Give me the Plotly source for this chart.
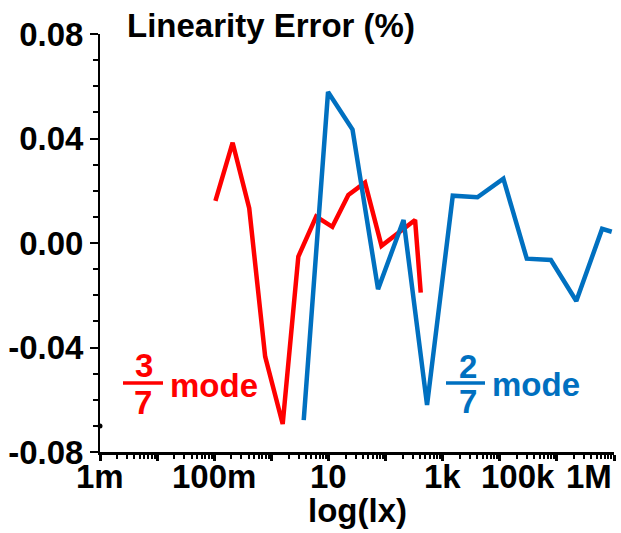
import math
import plotly.graph_objects as go

# Linearity error (%) versus illuminance (lx) for the two operating modes
lux_3_7 = [0.105, 0.21, 0.41, 0.78, 1.58, 2.97, 6.1, 11.7, 22.3, 43.7, 85, 166, 329, 413]
err_3_7 = [0.0161, 0.0384, 0.0133, -0.0435, -0.0693, -0.0052, 0.0101, 0.0062,
           0.0184, 0.0231, -0.0011, 0.0038, 0.0088, -0.0190]

lux_2_7 = [3.69, 9.84, 26.4, 73.9, 206.6, 533, 1503, 4066, 11560, 29700,
           78500, 218800, 619000, 912000]
err_2_7 = [-0.0678, 0.0578, 0.0434, -0.0177, 0.0088, -0.0620, 0.0181, 0.0175,
           0.0246, -0.0060, -0.0065, -0.0222, 0.0054, 0.0043]

x_tick_vals = [1e-3, 1e-1, 10, 1e3, 1e5, 1e6]
x_tick_text = ["1m", "100m", "10", "1k", "100k", "1M"]
y_tick_vals = [-0.08, -0.04, 0.0, 0.04, 0.08]
y_tick_text = ["-0.08", "-0.04", "0.00", "0.04", "0.08"]

RED = "#FF0000"
BLUE = "#0070C0"
FONT = "Liberation Sans"

W, H = 621, 533
L, R, T, B = 100, 7, 34, 81
PW, PH = W - L - R, H - T - B


def px(xp):
    return (xp - L) / PW


def py(yp):
    return (H - B - yp) / PH


fig = go.Figure()
fig.add_trace(go.Scatter(x=lux_3_7, y=err_3_7, mode="lines",
                         line=dict(color=RED, width=4.5), cliponaxis=False,
                         showlegend=False))
fig.add_trace(go.Scatter(x=lux_2_7, y=err_2_7, mode="lines",
                         line=dict(color=BLUE, width=4.5), cliponaxis=False,
                         showlegend=False))

minor_x = [m * 10 ** d for d in range(-3, 6) for m in range(2, 10)]
all_decades = [10 ** d for d in range(-3, 7)]

fig.update_xaxes(type="log", range=[-3, 6], showgrid=False, zeroline=False,
                 showline=True, linecolor="black", linewidth=3,
                 tickmode="array", tickvals=all_decades, showticklabels=False,
                 ticks="outside", ticklen=6, tickwidth=3, tickcolor="black",
                 minor=dict(tickmode="array", tickvals=minor_x, ticks="outside",
                            ticklen=4, tickwidth=2, tickcolor="black"))
fig.update_yaxes(range=[-0.08, 0.08], showgrid=False, zeroline=False,
                 showline=True, linecolor="black", linewidth=2,
                 tickmode="array", tickvals=y_tick_vals, ticktext=y_tick_text,
                 ticks="outside", ticklen=8, tickwidth=2, tickcolor="black",
                 tickfont=dict(family=FONT, size=33, color="black", weight="bold"),
                 minor=dict(dtick=0.01, ticks="outside", ticklen=5, tickwidth=2,
                            tickcolor="black"))

annotations = []
# x tick labels; the two rightmost are right-aligned to stay inside the frame
for i, (v, t) in enumerate(zip(x_tick_vals, x_tick_text)):
    anchor = "right" if i >= len(x_tick_vals) - 2 else "center"
    annotations.append(dict(x=math.log10(v), xref="x", y=py(476), yref="paper",
                            text=t, showarrow=False, xanchor=anchor, yanchor="middle",
                            font=dict(family=FONT, size=33, color="black", weight="bold")))

bold = lambda size, color: dict(family=FONT, size=size, color=color, weight="bold")
annotations += [
    dict(x=px(357), y=py(510), xref="paper", yref="paper", text="log(lx)",
         showarrow=False, xanchor="center", yanchor="middle", font=bold(33, "black")),
    dict(x=px(125), y=py(25), xref="paper", yref="paper", text="Linearity Error (%)",
         showarrow=False, xanchor="left", yanchor="middle", font=bold(33, "black")),
    # 3/7 mode label
    dict(x=px(144), y=py(365), xref="paper", yref="paper", text="3", showarrow=False,
         xanchor="center", yanchor="middle", font=bold(33, RED)),
    dict(x=px(143), y=py(402), xref="paper", yref="paper", text="7", showarrow=False,
         xanchor="center", yanchor="middle", font=bold(33, RED)),
    dict(x=px(168), y=py(385), xref="paper", yref="paper", text="mode", showarrow=False,
         xanchor="left", yanchor="middle", font=bold(33, RED)),
    # 2/7 mode label
    dict(x=px(468), y=py(366), xref="paper", yref="paper", text="2", showarrow=False,
         xanchor="center", yanchor="middle", font=bold(33, BLUE)),
    dict(x=px(468), y=py(401), xref="paper", yref="paper", text="7", showarrow=False,
         xanchor="center", yanchor="middle", font=bold(33, BLUE)),
    dict(x=px(490), y=py(384), xref="paper", yref="paper", text="mode", showarrow=False,
         xanchor="left", yanchor="middle", font=bold(33, BLUE)),
]

shapes = [
    dict(type="line", xref="paper", yref="paper", x0=px(123), x1=px(163),
         y0=py(383), y1=py(383), line=dict(color=RED, width=3.5)),
    dict(type="line", xref="paper", yref="paper", x0=px(446), x1=px(485),
         y0=py(383), y1=py(383), line=dict(color=BLUE, width=3.5)),
    # small dot on the y axis at -0.07
    dict(type="circle", xref="paper", yref="y", xsizemode="pixel", ysizemode="pixel",
         xanchor=0, yanchor=-0.07, x0=-2.5, x1=2.5, y0=-2.5, y1=2.5,
         fillcolor="black", line=dict(color="black", width=0)),
]

fig.update_layout(width=W, height=H, autosize=False,
                  margin=dict(l=L, r=R, t=T, b=B, pad=0),
                  paper_bgcolor="white", plot_bgcolor="white",
                  annotations=annotations, shapes=shapes)

fig.write_html("out.html")
